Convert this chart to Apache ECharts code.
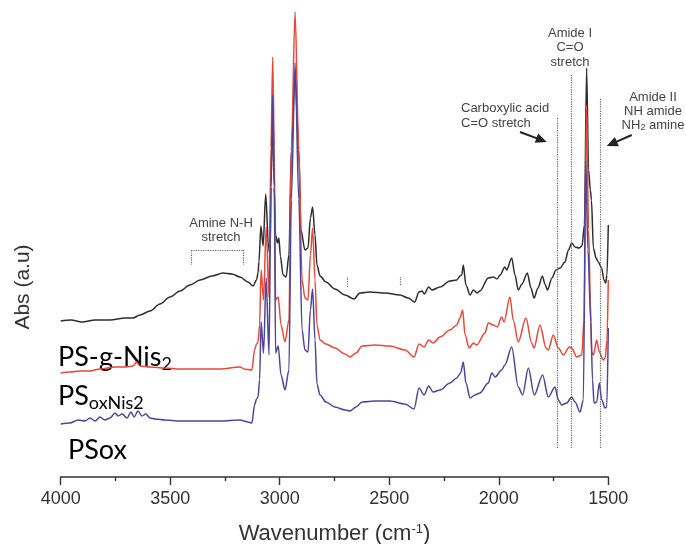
<!DOCTYPE html>
<html>
<head>
<meta charset="utf-8">
<script src="https://cdn.jsdelivr.net/npm/echarts@6.0.0/dist/echarts.min.js"></script>
<style>
  html, body { margin: 0; padding: 0; background: #fff; }
  #chart { width: 686px; height: 544px; }
</style>
</head>
<body>
<div id="chart"></div>
<script>
// wavenumber (cm-1) / absorbance (a.u., offsets as plotted)
var blackWave = [4000,3953,3903,3843,3775,3706,3670,3638,3592,3547,3501,3455,3410,3364,3309,3259,3218,3181,3145,3122,3106,3099,3095,3086,3076,3064,3051,3044,3040,3032,3025,3019,3010,3004,2997,2985,2971,2958,2947,2930,2913,2903,2885,2871,2860,2850,2839,2830,2816,2789,2748,2702,2661,2634,2588,2519,2451,2414,2384,2364,2350,2340,2320,2305,2268,2223,2192,2177,2169,2162,2150,2131,2116,2099,2086,2048,2025,2008,1994,1972,1964,1941,1926,1911,1894,1870,1853,1839,1821,1801,1789,1778,1757,1739,1720,1698,1682,1667,1652,1634,1620,1609,1599,1590,1582,1577,1568,1556,1546,1530,1520,1512,1506,1500];
var blackAbs = [156,157,155,157,157,159,159,162,166,173,180,186,192,197,201,204,203,200,195,191,197,204,215,251,231,283,229,222,290,367,290,242,234,239,221,202,200,222,327,402,327,247,227,229,259,270,242,212,201,195,188,182,178,184,185,184,182,179,175,185,186,183,190,187,190,196,197,201,202,212,192,182,187,184,186,199,200,198,202,210,207,219,202,187,193,204,189,179,189,201,193,187,199,207,209,215,227,234,230,229,231,252,409,307,287,277,229,219,215,209,197,194,202,252];

var redWave = [4000,3958,3912,3866,3821,3752,3706,3670,3653,3638,3592,3524,3455,3364,3273,3181,3163,3127,3115,3106,3099,3092,3085,3074,3062,3049,3040,3032,3025,3019,3007,2994,2976,2958,2947,2930,2913,2898,2885,2871,2860,2850,2839,2830,2816,2789,2748,2702,2679,2652,2624,2565,2497,2428,2387,2364,2341,2320,2300,2268,2223,2192,2177,2165,2154,2135,2116,2101,2063,2048,2025,2007,1987,1976,1949,1934,1911,1876,1850,1839,1812,1784,1774,1751,1728,1705,1678,1667,1644,1621,1611,1599,1590,1582,1576,1568,1553,1541,1523,1514,1506,1500];
var redAbs = [104,105,106,106,108,110,110,111,115,111,110,109,108,108,108,110,108,107,127,133,135,152,207,177,250,180,330,420,330,177,180,152,135,157,327,465,327,197,179,177,222,249,197,152,137,133,129,123,120,124,131,132,131,127,120,133,130,137,134,140,147,152,159,167,142,129,134,132,144,154,152,150,160,155,180,157,135,159,134,129,152,129,127,142,129,122,130,129,120,122,157,372,247,177,125,122,137,125,117,119,137,197];

var blueWave = [4000,3958,3921,3889,3866,3843,3821,3798,3775,3752,3738,3720,3697,3679,3665,3647,3629,3611,3592,3569,3524,3455,3364,3273,3181,3145,3127,3115,3106,3099,3092,3085,3074,3062,3049,3040,3032,3025,3019,3007,2994,2976,2958,2947,2930,2913,2898,2885,2871,2860,2850,2839,2830,2816,2789,2748,2702,2679,2652,2624,2565,2497,2428,2387,2364,2341,2320,2300,2268,2223,2192,2174,2162,2150,2131,2109,2086,2048,2032,2017,1987,1972,1941,1911,1891,1865,1838,1800,1774,1743,1728,1713,1690,1667,1652,1629,1614,1603,1593,1580,1572,1565,1553,1541,1530,1515,1507,1500];
var blueAbs = [53,54,57,56,59,56,60,57,59,64,61,63,59,65,60,66,61,63,59,58,57,56,56,56,57,55,54,72,78,80,97,155,124,199,122,290,382,290,124,131,102,87,107,277,414,277,147,127,125,167,188,137,93,82,75,70,67,66,70,75,76,76,73,68,89,82,91,85,87,94,99,104,115,94,79,82,84,94,104,100,107,112,130,90,82,109,82,102,80,90,77,72,74,80,75,65,77,317,227,155,97,74,75,94,77,69,70,149];

// band markers: wavenumber, bottom, top
var bandLines = [[1735, 29, 359], [1667, 29, 402], [1538, 29, 379]];
// amine N-H bracket
var bracketFrom = 3405, bracketTo = 3168, bracketTop = 227, bracketBottom = 212;
// arrows [fromWave, fromAbs, toWave, toAbs]
var arrows = [[1903, 345, 1781, 335], [1393, 342, 1507, 331]];
// small stray dotted ticks
var strayTicks = [[2690, 190, 200], [2451, 192, 200]];

var xTicks = { min: 1500, max: 4000, step: 500 };

function pairs(w, a) {
  return w.map(function (v, i) { return [v, a[i]]; });
}

var dotted = { type: 'dotted', color: '#666', width: 1.2 };
var mlData = [];
bandLines.forEach(function (b) {
  mlData.push([{ coord: [b[0], b[1]] }, { coord: [b[0], b[2]] }]);
});
mlData.push([{ coord: [bracketFrom, bracketTop] }, { coord: [bracketTo, bracketTop] }]);
mlData.push([{ coord: [bracketFrom, bracketTop] }, { coord: [bracketFrom, bracketBottom] }]);
mlData.push([{ coord: [bracketTo, bracketTop] }, { coord: [bracketTo, bracketBottom] }]);
strayTicks.forEach(function (s) {
  mlData.push([{ coord: [s[0], s[1]] }, { coord: [s[0], s[2]] }]);
});

var chart = echarts.init(document.getElementById('chart'));
var labelFont = 'Liberation Sans, Arial, sans-serif';
var sampleFont = 'Lato, sans-serif';
var lineCommon = { type: 'line', showSymbol: false, smooth: 0.3, smoothMonotone: 'x' };

chart.setOption({
  animation: false,
  backgroundColor: '#fff',
  grid: { left: 60.7, right: 77.7, top: 0, bottom: 67, outerBoundsMode: 'none' },
  xAxis: {
    type: 'value',
    inverse: true,
    min: xTicks.min,
    max: xTicks.max,
    interval: xTicks.step,
    name: 'Wavenumber (cm{sup|-1})',
    nameLocation: 'middle',
    nameGap: 46,
    nameTextStyle: {
      fontSize: 22, color: '#333', fontFamily: labelFont,
      rich: { sup: { fontSize: 13, color: '#333', fontFamily: labelFont, verticalAlign: 'top', padding: [0, 0, 8, 0] } }
    },
    axisLine: { lineStyle: { color: '#333', width: 1.6 } },
    axisTick: { length: 8, lineStyle: { color: '#333', width: 1.4 } },
    minorTick: { show: true, splitNumber: 2, length: 4, lineStyle: { color: '#333', width: 1.4 } },
    splitLine: { show: false },
    axisLabel: {
      fontSize: 18, color: '#333', fontFamily: labelFont, margin: 13,
      formatter: function (v) { return String(v); }
    }
  },
  yAxis: { type: 'value', min: 0, max: 477, show: false },
  series: [
    Object.assign({
      name: 'PS-g-Nis2', data: pairs(blackWave, blackAbs),
      lineStyle: { color: '#2e2e2e', width: 1.5 },
      markLine: {
        silent: true, symbol: ['none', 'none'], label: { show: false },
        lineStyle: dotted, data: mlData
      }
    }, lineCommon),
    Object.assign({
      name: 'PSoxNis2', data: pairs(redWave, redAbs),
      lineStyle: { color: '#e6483b', width: 1.5 }
    }, lineCommon),
    Object.assign({
      name: 'PSox', data: pairs(blueWave, blueAbs),
      lineStyle: { color: '#4d4597', width: 1.5 }
    }, lineCommon)
  ]
});

var texts = [
  { type: 'text', x: 23, y: 287, rotation: Math.PI / 2,
    style: { text: 'Abs (a.u)', fontSize: 21, fontFamily: labelFont, fill: '#333', align: 'center', verticalAlign: 'middle' } },
  { type: 'text', x: 58, y: 357.5,
    style: { text: '{m|PS-g-Nis}{s|2}', fill: '#000', align: 'left', verticalAlign: 'middle',
      rich: { m: { fontSize: 27, fontFamily: sampleFont, lineHeight: 32, fill: '#000' },
              s: { fontSize: 18, fontFamily: sampleFont, lineHeight: 18, verticalAlign: 'bottom', fill: '#000' } } } },
  { type: 'text', x: 58, y: 396.5,
    style: { text: '{m|PS}{s|oxNis2}', fill: '#000', align: 'left', verticalAlign: 'middle',
      rich: { m: { fontSize: 27, fontFamily: sampleFont, lineHeight: 32, fill: '#000' },
              s: { fontSize: 18, fontFamily: sampleFont, lineHeight: 18, verticalAlign: 'bottom', fill: '#000' } } } },
  { type: 'text', x: 68, y: 450,
    style: { text: 'PSox', fontSize: 27, fontFamily: sampleFont, fill: '#000', align: 'left', verticalAlign: 'middle' } },
  { type: 'text', x: 221, y: 230,
    style: { text: 'Amine N-H\nstretch', fontSize: 13, lineHeight: 14, fontFamily: labelFont, fill: '#444', align: 'center', verticalAlign: 'middle' } },
  { type: 'text', x: 461, y: 115.5,
    style: { text: 'Carboxylic acid\nC=O stretch', fontSize: 13, lineHeight: 15, fontFamily: labelFont, fill: '#444', align: 'left', verticalAlign: 'middle' } },
  { type: 'text', x: 570, y: 47.5,
    style: { text: 'Amide I\nC=O\nstretch', fontSize: 13, lineHeight: 14.5, fontFamily: labelFont, fill: '#444', align: 'center', verticalAlign: 'middle' } },
  { type: 'text', x: 653, y: 111,
    style: { text: 'Amide II\nNH amide\nNH{s|2} amine', fontSize: 13, lineHeight: 14, fontFamily: labelFont, fill: '#444', align: 'center', verticalAlign: 'middle',
      rich: { s: { fontSize: 9, fontFamily: labelFont, fill: '#444', lineHeight: 9, verticalAlign: 'bottom' } } } }
];

// arrows placed from data coordinates
arrows.forEach(function (a) {
  var p0 = chart.convertToPixel({ gridIndex: 0 }, [a[0], a[1]]);
  var p1 = chart.convertToPixel({ gridIndex: 0 }, [a[2], a[3]]);
  var dx = p1[0] - p0[0], dy = p1[1] - p0[1];
  var len = Math.sqrt(dx * dx + dy * dy);
  var ux = dx / len, uy = dy / len;
  var hl = 11, hw = 5;
  var bx = p1[0] - ux * hl, by = p1[1] - uy * hl;
  texts.push({ type: 'line', shape: { x1: p0[0], y1: p0[1], x2: bx + ux * 2, y2: by + uy * 2 },
    style: { stroke: '#222', lineWidth: 2 } });
  texts.push({ type: 'polygon', shape: { points: [[p1[0], p1[1]], [bx - uy * hw, by + ux * hw], [bx + uy * hw, by - ux * hw]] },
    style: { fill: '#222' } });
});

chart.setOption({ graphic: texts });
</script>
</body>
</html>
